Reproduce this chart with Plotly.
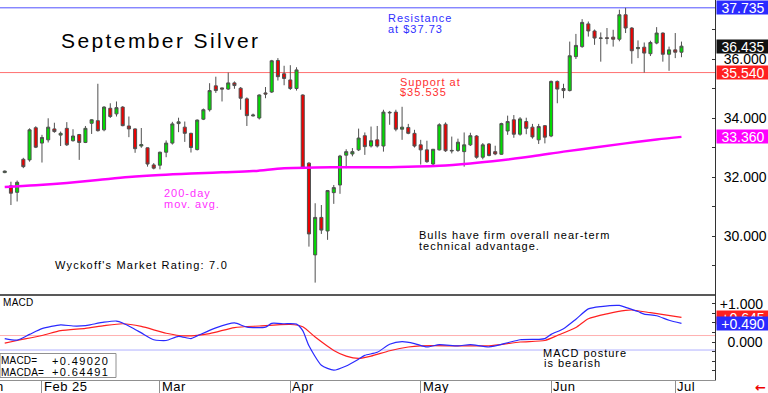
import plotly.graph_objects as go
import pandas as pd

W, H = 768, 393
FONT = "Liberation Sans"

# ---------------- data ----------------
holidays = ["2025-02-17", "2025-04-18", "2025-05-26", "2025-06-19"]
dates = [d.strftime("%Y-%m-%d") for d in pd.bdate_range("2025-01-24", "2025-07-02")
         if d.strftime("%Y-%m-%d") not in holidays]

opens = [32.15, 31.70, 31.48, 32.60, 32.58, 33.67, 33.15, 33.26, 33.63, 33.42,
         33.65, 33.23, 33.44, 33.17, 33.82, 33.91, 33.60, 34.33, 34.14, 34.37,
         33.73, 33.63, 33.05, 32.99, 32.41, 32.40, 32.84, 33.15, 33.81, 33.69,
         33.48, 32.93, 33.96, 34.28, 35.09, 35.02, 34.98, 35.19, 35.01, 34.65,
         34.07, 34.00, 34.85, 34.88, 35.95, 35.50, 35.29, 35.00, 34.78, 32.47,
         29.36, 30.63, 30.17, 31.47, 31.73, 32.74, 32.78, 32.92, 33.40, 33.05,
         33.26, 33.05, 34.17, 34.20, 33.62, 33.68, 33.48, 33.09, 32.92, 32.44,
         32.92, 33.79, 32.88, 32.90, 32.86, 33.09, 33.39, 32.67, 33.12, 32.86,
         32.77, 33.56, 33.94, 33.45, 33.88, 33.69, 33.26, 33.74, 33.39, 35.24,
         35.00, 34.93, 36.08, 36.42, 37.19, 36.95, 36.70, 36.72, 36.74, 36.67,
         37.50, 37.05, 36.35, 36.40, 36.18, 36.54, 36.88, 36.16, 36.31, 36.23]
highs = [32.22, 31.84, 31.88, 32.65, 33.65, 33.72, 33.43, 33.99, 33.84, 33.54,
         33.86, 33.62, 33.46, 33.73, 33.96, 35.16, 34.40, 34.50, 34.56, 34.40,
         34.05, 33.65, 33.66, 33.00, 32.47, 32.86, 33.24, 33.87, 34.01, 33.88,
         33.50, 33.95, 34.32, 35.18, 35.40, 35.03, 35.54, 35.24, 35.05, 34.70,
         34.15, 34.80, 35.05, 35.97, 36.03, 35.77, 35.79, 35.72, 34.80, 32.50,
         31.11, 31.05, 31.56, 31.73, 32.75, 32.94, 32.98, 33.64, 33.51, 33.71,
         33.73, 34.28, 34.24, 34.28, 34.38, 33.80, 33.60, 33.26, 33.23, 32.95,
         33.82, 33.85, 33.37, 33.30, 33.51, 33.50, 33.42, 33.15, 33.15, 33.06,
         33.84, 34.08, 34.10, 34.03, 34.01, 33.80, 33.80, 33.76, 35.27, 35.27,
         35.16, 36.59, 36.85, 37.35, 37.27, 37.00, 36.90, 37.05, 36.99, 37.67,
         37.735, 37.08, 36.63, 36.56, 36.62, 37.08, 36.90, 36.42, 36.88, 36.59]
lows = [32.13, 31.05, 31.17, 32.30, 32.52, 32.98, 32.49, 33.17, 33.50, 33.05,
        33.05, 33.20, 32.58, 33.15, 33.46, 33.54, 33.55, 34.00, 34.05, 33.72,
        33.35, 32.82, 32.99, 32.35, 32.26, 32.26, 32.67, 33.10, 33.52, 33.19,
        32.83, 32.90, 33.93, 34.22, 34.85, 34.56, 34.95, 34.99, 34.28, 33.73,
        34.05, 33.95, 34.67, 34.85, 35.27, 35.11, 34.95, 34.93, 32.30, 29.64,
        28.42, 30.07, 29.87, 31.09, 31.43, 32.30, 32.70, 32.88, 32.75, 33.00,
        33.00, 32.86, 33.77, 33.55, 33.26, 33.45, 33.00, 32.42, 32.48, 32.40,
        32.90, 32.85, 32.80, 32.85, 32.35, 33.05, 32.62, 32.60, 32.70, 32.74,
        32.75, 33.43, 33.33, 33.40, 33.45, 33.30, 33.12, 33.14, 33.35, 34.50,
        34.67, 34.90, 36.00, 36.38, 36.76, 36.48, 35.91, 36.50, 36.42, 36.60,
        36.88, 35.84, 36.03, 35.54, 36.10, 36.50, 35.91, 35.60, 36.03, 36.06]
closes = [32.20, 31.45, 31.82, 32.35, 33.60, 33.01, 33.34, 33.69, 33.54, 33.48,
          33.09, 33.39, 33.17, 33.65, 33.94, 33.57, 34.37, 34.05, 34.35, 33.74,
          33.63, 32.96, 33.10, 32.44, 32.30, 32.84, 33.15, 33.80, 33.87, 33.48,
          33.00, 33.93, 34.28, 34.93, 34.93, 34.98, 35.19, 35.10, 34.67, 34.08,
          34.10, 34.78, 34.81, 35.94, 35.40, 35.34, 35.00, 35.63, 32.32, 30.07,
          30.63, 30.20, 31.54, 31.64, 32.71, 32.86, 32.86, 33.32, 33.03, 33.23,
          33.05, 34.20, 34.19, 33.62, 33.69, 33.48, 33.05, 32.92, 32.52, 32.94,
          33.77, 32.89, 32.90, 33.18, 33.09, 33.40, 32.67, 33.09, 32.73, 32.78,
          33.81, 33.88, 33.45, 33.97, 33.65, 33.36, 33.71, 33.35, 35.24, 34.98,
          34.93, 36.11, 36.46, 37.24, 36.95, 36.71, 36.71, 36.70, 36.67, 37.50,
          37.05, 36.28, 36.39, 36.20, 36.56, 36.88, 36.16, 36.31, 36.23, 36.435]

ma_dates = ["2025-01-24", "2025-01-31", "2025-02-07", "2025-02-14", "2025-02-24", "2025-03-03",
            "2025-03-10", "2025-03-17", "2025-03-24", "2025-03-31", "2025-04-07", "2025-04-14",
            "2025-04-22", "2025-04-29", "2025-05-06", "2025-05-13", "2025-05-20", "2025-05-28",
            "2025-06-04", "2025-06-11", "2025-06-18", "2025-06-26", "2025-07-02"]
ma_values = [31.66, 31.72, 31.80, 31.90, 32.00, 32.07,
             32.12, 32.16, 32.20, 32.30, 32.32, 32.33,
             32.33, 32.35, 32.38, 32.46, 32.57, 32.70,
             32.86, 33.00, 33.14, 33.27, 33.36]

macd_dates = ["2025-01-24", "2025-01-28", "2025-01-30", "2025-02-03", "2025-02-06", "2025-02-10",
              "2025-02-12", "2025-02-13", "2025-02-18", "2025-02-20", "2025-02-21", "2025-02-25",
              "2025-02-26", "2025-02-28", "2025-03-04", "2025-03-06", "2025-03-10", "2025-03-11",
              "2025-03-14", "2025-03-19", "2025-03-21", "2025-03-26", "2025-03-27", "2025-03-31",
              "2025-04-02", "2025-04-03", "2025-04-04", "2025-04-08", "2025-04-10", "2025-04-14",
              "2025-04-16", "2025-04-17", "2025-04-22", "2025-04-24", "2025-04-28", "2025-04-30",
              "2025-05-02", "2025-05-06", "2025-05-09", "2025-05-13", "2025-05-16", "2025-05-21",
              "2025-05-23", "2025-05-29", "2025-05-30", "2025-06-02", "2025-06-04", "2025-06-06",
              "2025-06-10", "2025-06-12", "2025-06-17", "2025-06-18", "2025-06-23", "2025-06-24",
              "2025-06-26", "2025-06-30", "2025-07-02"]
macd_values = [0.09, 0.05, 0.20, 0.35, 0.45, 0.42,
               0.43, 0.46, 0.52, 0.55, 0.50, 0.33,
               0.24, 0.06, 0.04, 0.15, 0.09, 0.16,
               0.37, 0.50, 0.39, 0.39, 0.49, 0.48,
               0.47, 0.30, -0.10, -0.61, -0.74, -0.63,
               -0.45, -0.35, -0.27, -0.06, 0.01, -0.04,
               -0.13, -0.07, -0.10, -0.07, -0.13, -0.02,
               0.06, 0.07, 0.09, 0.20, 0.35, 0.60,
               0.87, 0.93, 0.96, 0.91, 0.80, 0.73,
               0.69, 0.57, 0.49]

signal_dates = ["2025-01-24", "2025-01-28", "2025-02-03", "2025-02-06", "2025-02-12", "2025-02-18",
                "2025-02-21", "2025-02-26", "2025-03-04", "2025-03-07", "2025-03-13", "2025-03-19",
                "2025-03-25", "2025-04-01", "2025-04-03", "2025-04-07", "2025-04-10", "2025-04-14",
                "2025-04-16", "2025-04-21", "2025-04-24", "2025-04-29", "2025-05-01", "2025-05-09",
                "2025-05-16", "2025-05-23", "2025-05-30", "2025-06-03", "2025-06-06", "2025-06-10",
                "2025-06-13", "2025-06-18", "2025-06-20", "2025-06-25", "2025-07-02"]
signal_values = [-0.03, 0.04, 0.17, 0.30, 0.36, 0.43,
                 0.48, 0.41, 0.23, 0.16, 0.22, 0.38,
                 0.42, 0.46, 0.40, 0.13, -0.22, -0.37,
                 -0.43, -0.37, -0.23, -0.13, -0.10, -0.10,
                 -0.10, 0.00, 0.04, 0.17, 0.38, 0.61,
                 0.74, 0.83, 0.84, 0.77, 0.645]

resistance = 37.735
support = 35.54
last_close = 36.435
ma_last = 33.36
macd_last = 0.49020
macda_last = 0.64491
macd_upper_ref = 0.17
macd_lower_ref = -0.21

price_ticks = [30, 32, 34, 36]
price_minor = [29, 31, 33, 35, 37]
macd_ticks = [0, 1]
macd_minor = [-0.75, -0.5, -0.25, 0.25, 0.5, 0.75]
month_ticks = ["2025-02-03", "2025-03-03", "2025-04-01", "2025-05-01", "2025-06-02", "2025-07-01"]
month_labels = ["Feb 25", "Mar", "Apr", "May", "Jun", "Jul"]

# ---------------- layout helpers (pixel -> paper) ----------------
def px(x):
    return x / W


def py(y):
    return 1 - y / H


XR = 715
xrange_ = [-0.76, 114.4]

fig = go.Figure()

fig.add_trace(go.Candlestick(
    x=dates, open=opens, high=highs, low=lows, close=closes,
    increasing=dict(fillcolor="#00dd00", line=dict(color="#505050", width=1)),
    decreasing=dict(fillcolor="#ee0000", line=dict(color="#505050", width=1)),
    whiskerwidth=0, showlegend=False, xaxis="x", yaxis="y"))

fig.add_trace(go.Scatter(x=ma_dates, y=ma_values, mode="lines",
                         line=dict(color="#ff00ff", width=2.5, shape="spline"),
                         showlegend=False, xaxis="x", yaxis="y"))

fig.add_trace(go.Scatter(x=signal_dates, y=signal_values, mode="lines",
                         line=dict(color="#ff2020", width=1.2, shape="spline", smoothing=0.6),
                         showlegend=False, xaxis="x2", yaxis="y2"))
fig.add_trace(go.Scatter(x=macd_dates, y=macd_values, mode="lines",
                         line=dict(color="#2a2aff", width=1.2, shape="spline", smoothing=0.6),
                         showlegend=False, xaxis="x2", yaxis="y2"))

shapes = []
shapes.append(dict(type="line", xref="paper", yref="y", x0=0, x1=px(XR), y0=resistance, y1=resistance,
                   line=dict(color="#5050ff", width=1), layer="below"))
shapes.append(dict(type="line", xref="paper", yref="y", x0=0, x1=px(XR), y0=support, y1=support,
                   line=dict(color="#ff7070", width=1), layer="below"))
shapes.append(dict(type="line", xref="paper", yref="y2", x0=0, x1=px(XR), y0=macd_upper_ref, y1=macd_upper_ref,
                   line=dict(color="#ffb0b0", width=1), layer="below"))
shapes.append(dict(type="line", xref="paper", yref="y2", x0=0, x1=px(XR), y0=macd_lower_ref, y1=macd_lower_ref,
                   line=dict(color="#b0b0ff", width=1), layer="below"))
shapes.append(dict(type="line", xref="paper", yref="paper", x0=0, x1=px(XR), y0=py(295), y1=py(295),
                   line=dict(color="#222222", width=1.5)))
# readout box
shapes.append(dict(type="rect", xref="paper", yref="paper", x0=px(0), x1=px(116), y0=py(377.5), y1=py(353.5),
                   line=dict(color="#909090", width=1), fillcolor="white"))
fig.update_layout(shapes=shapes)

annotations = []


def txt(s, x, y, color="black", size=11, ls=1.0, anchor="left", family=FONT):
    annotations.append(dict(
        text=f'<span style="letter-spacing:{ls}px">{s}</span>',
        xref="paper", yref="paper", x=px(x), y=py(y), xanchor=anchor, yanchor="middle",
        showarrow=False, borderpad=0,
        font=dict(family=family, size=size, color=color)))


def box(s, yval, yref, bg):
    annotations.append(dict(
        text=s, xref="paper", yref=yref, x=px(716), y=yval, xanchor="left", yanchor="middle",
        showarrow=False, bgcolor=bg, width=52, height=13, borderpad=0, align="center",
        font=dict(family=FONT, size=14, color="white")))


txt("September Silver", 60, 40, size=21, ls=2.4)
txt("Resistance", 387, 18.3, color="#3030ff", size=11, ls=1.0)
txt("at $37.73", 387, 28.7, color="#3030ff", size=11, ls=1.0)
txt("Support at", 399, 81.7, color="#ff3030", size=11, ls=1.0)
txt("$35.535", 399, 92.3, color="#ff3030", size=11, ls=1.0)
txt("200-day", 163, 193.3, color="#ff30ff", size=11, ls=1.0)
txt("mov. avg.", 163, 204, color="#ff30ff", size=11, ls=1.0)
txt("Wyckoff's Market Rating: 7.0", 54, 265, size=11, ls=1.2)
txt("Bulls have firm overall near-term", 418, 235, size=11, ls=1.0)
txt("technical advantage.", 418, 245.7, size=11, ls=1.0)
txt("MACD", 2, 302, size=10, ls=0.3)
txt("MACD posture", 542, 353.3, size=11, ls=1.0)
txt("is bearish", 543, 363.3, size=11, ls=1.0)
txt("MACD=", 0, 360.7, size=10, ls=0.2)
txt(f"+{macd_last:.5f}", 51, 360.7, size=11, ls=1.4)
txt("MACDA=", 0, 372.3, size=10, ls=0.2)
txt(f"+{macda_last:.5f}", 51, 372.3, size=11, ls=1.4)
txt("n", 5, 386.7, size=13, ls=0.5, anchor="right")
txt("<b>\u2190</b>", 767, 387, color="#ee0000", size=13, ls=0, anchor="right", family="DejaVu Sans")

for d, lab in zip(month_ticks, month_labels):
    annotations.append(dict(
        text=f'<span style="letter-spacing:0.5px">{lab}</span>', xref="x2", yref="paper",
        x=d, y=py(386.7), xanchor="left", yanchor="middle", xshift=1,
        showarrow=False, borderpad=0, font=dict(family=FONT, size=13, color="black")))

box(f"{resistance:.3f}", resistance, "y", "#2a2aff")
box(f"{last_close:.3f}", last_close, "y", "#111111")
box(f"{support:.3f}", support, "y", "#ff2020")
box(f"{ma_last:.3f}", ma_last, "y", "#ff00ff")
box(f"+{macda_last:.3f}", macda_last, "y2", "#ff2020")
box(f"+{macd_last:.3f}", macd_last, "y2", "#2a2aff")

fig.update_layout(annotations=annotations)

axis_common = dict(showgrid=False, zeroline=False)
fig.update_layout(
    width=W, height=H, autosize=False,
    margin=dict(l=0, r=0, t=0, b=0, pad=0),
    paper_bgcolor="white", plot_bgcolor="white",
    font=dict(family=FONT, color="black"),
    hovermode=False,
    xaxis=dict(domain=[0, px(XR)], anchor="y", type="category", categoryorder="array",
               categoryarray=dates, range=xrange_, showticklabels=False, ticks="",
               showline=False, rangeslider=dict(visible=False), **axis_common),
    yaxis=dict(domain=[py(295), 1], anchor="x", range=[28, 38], side="right",
               tickvals=price_ticks, ticktext=[f"{v:.3f}" for v in price_ticks],
               tickfont=dict(size=14, color="black", family=FONT),
               ticks="inside", ticklen=3, tickcolor="#333333",
               minor=dict(tickvals=price_minor, ticks="inside", ticklen=3, tickcolor="#333333"),
               showline=True, linecolor="#333333", linewidth=1, ticklabelstandoff=5,
               **axis_common),
    yaxis3=dict(overlaying="y", anchor="x", side="left", range=[28, 38],
                tickvals=price_minor + price_ticks, ticks="inside", ticklen=3, tickcolor="#555555",
                showticklabels=False, showline=False, **axis_common),
    xaxis2=dict(domain=[0, px(XR)], anchor="y2", type="category", categoryorder="array",
                categoryarray=dates, range=xrange_, tickvals=month_ticks,
                showticklabels=False, ticks="outside", ticklen=13, tickcolor="#909090",
                showline=True, linecolor="#909090", linewidth=1, **axis_common),
    yaxis2=dict(domain=[py(380), py(295)], anchor="x2", range=[-0.997, 1.234], side="right",
                tickvals=macd_ticks, ticktext=["\u00a0\u00a00.000", "+1.000"],
                tickfont=dict(size=14, color="black", family=FONT),
                ticks="inside", ticklen=3, tickcolor="#333333",
                minor=dict(tickvals=macd_minor, ticks="inside", ticklen=3, tickcolor="#333333"),
                showline=True, linecolor="#333333", linewidth=1, ticklabelstandoff=1,
                **axis_common),
)

fig.write_html("out.html", config={"displayModeBar": False, "staticPlot": True},
               post_script="document.body.style.margin='0';")
